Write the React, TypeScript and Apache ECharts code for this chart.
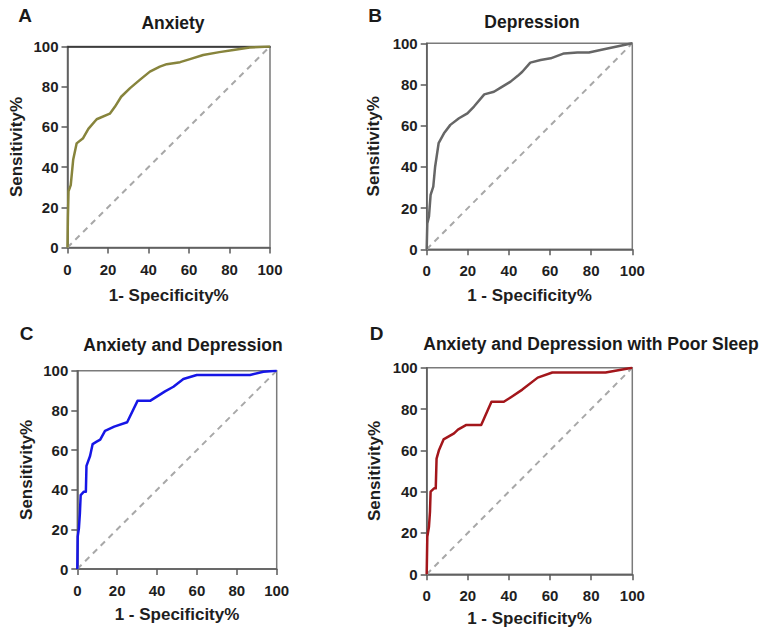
import React, { useEffect, useRef } from "react";
import * as echarts from "echarts";

// ROC curves: [1 - specificity %, sensitivity %]
const anxietyRoc: number[][] = [
  [0, 0], [0.2, 15], [0.5, 28], [1.6, 31], [2.8, 43.6], [4.5, 51.8], [7.7, 54.4],
  [10.3, 59], [14.4, 63.8], [20.9, 66.6], [23.4, 70], [26.5, 75], [30.9, 79.3],
  [35.7, 83.4], [40.7, 87.5], [45.6, 90], [49, 91.2], [55.6, 92.2], [60.5, 93.7],
  [67, 95.8], [75, 97.2], [81.9, 98.3], [90, 99.5], [100, 100],
];
const depressionRoc: number[][] = [
  [0, 0], [0.3, 12.6], [1.1, 15.9], [1.9, 26.4], [3.2, 30.4], [4.1, 40.1], [5.8, 51.5],
  [8.4, 56.3], [11.5, 60.4], [15.7, 63.6], [19.8, 66], [23, 69.3], [28, 75.2],
  [32.7, 76.5], [36, 78.5], [40.8, 81.4], [44.3, 84.2], [46.5, 86.2], [50.4, 90.6],
  [55.4, 91.9], [60.3, 92.7], [66.8, 95.1], [73.3, 95.5], [78.9, 95.5], [86.2, 97.1],
  [100, 100],
];
const comorbidRoc: number[][] = [
  [0, 0], [0.2, 16.3], [0.8, 20.5], [1.3, 28], [1.7, 37.3], [3.3, 39], [4.3, 39],
  [4.6, 52], [6.4, 57], [7.7, 63], [9.7, 64.2], [11.5, 65.2], [13.9, 69.7],
  [18.5, 71.8], [25, 74], [30.2, 84.8], [36.5, 84.8], [44, 89.6], [48.2, 91.9],
  [53.2, 95.8], [59.9, 97.8], [86.6, 97.8], [93.3, 99.5], [100, 100],
];
const poorSleepRoc: number[][] = [
  [0, 0], [0.3, 18.2], [1.1, 23], [1.6, 30.3], [1.9, 40], [3.6, 41.6], [4.4, 41.6],
  [4.8, 56], [6, 60.2], [8.2, 65.3], [13.3, 68.2], [15.2, 70], [19.3, 72.3],
  [26.5, 72.3], [31.5, 83.5], [37.5, 83.5], [40.8, 85.6], [46.5, 89.4], [54, 95.2],
  [61.1, 97.7], [87, 97.7], [100, 100],
];
const referenceLine: number[][] = [[0, 0], [100, 100]];

const panelTitles = [
  "Anxiety",
  "Depression",
  "Anxiety and Depression",
  "Anxiety and Depression with Poor Sleep",
];
const panelLetters = ["A", "B", "C", "D"];
const xAxisNames = ["1- Specificity%", "1 - Specificity%", "1 - Specificity%", "1 - Specificity%"];
const yAxisName = "Sensitivity%";
const curveColors = ["#87843c", "#666666", "#1616e6", "#a3161b"];

const FONT = "'Liberation Sans', Arial, Helvetica, sans-serif";

const grids = [
  { left: 67.5, top: 46.5, width: 202.5, height: 201, xGap: 37, yGap: 42.5 },
  { left: 426.7, top: 43.3, width: 205.6, height: 206, xGap: 36, yGap: 44.5 },
  { left: 77.3, top: 370.7, width: 199.4, height: 198.3, xGap: 34.5, yGap: 42 },
  { left: 426.7, top: 367.7, width: 205.6, height: 206.6, xGap: 34, yGap: 44 },
];
const titlePos = [
  [173, 23],
  [532, 22],
  [183, 345],
  [591, 344],
];
const letterPos = [
  [25, 15],
  [375, 15],
  [26.5, 333.5],
  [376.5, 333.5],
];

export default function App() {
  const ref = useRef<HTMLDivElement>(null);

  useEffect(() => {
    if (!ref.current) return;
    const chart = echarts.init(ref.current, undefined, { renderer: "svg" });
    const curves = [anxietyRoc, depressionRoc, comorbidRoc, poorSleepRoc];

    const axisLine = { show: true, lineStyle: { color: "#5a5a5a", width: 1.5 } };
    const axisTick = { show: true, inside: false, length: 6, lineStyle: { color: "#5a5a5a", width: 1.5 } };
    const axisLabel = { fontSize: 15, fontWeight: "bold" as const, color: "#1e1e1e", fontFamily: FONT };
    const nameStyle = { fontSize: 17, fontWeight: "bold" as const, color: "#1e1e1e", fontFamily: FONT };

    const xAxes: any[] = grids.map((g, i) => ({
      type: "value",
      gridIndex: i,
      min: 0,
      max: 100,
      interval: 20,
      axisLine,
      axisTick,
      axisLabel: { ...axisLabel, margin: 14 },
      splitLine: { show: false },
      name: xAxisNames[i],
      nameLocation: "middle",
      nameGap: g.xGap + 2,
      nameTextStyle: nameStyle,
    }));
    // darker top edge on panel A's frame
    xAxes.push({
      type: "value",
      gridIndex: 0,
      position: "top",
      min: 0,
      max: 100,
      axisLine: { show: true, lineStyle: { color: "#2a2a2a", width: 1.5 } },
      axisTick: { show: false },
      axisLabel: { show: false },
      splitLine: { show: false },
    });

    const yAxes = grids.map((g, i) => ({
      type: "value",
      gridIndex: i,
      min: 0,
      max: 100,
      interval: 20,
      axisLine,
      axisTick,
      axisLabel: { ...axisLabel, margin: 9 },
      splitLine: { show: false },
      name: yAxisName,
      nameLocation: "middle",
      nameRotate: 90,
      nameGap: g.yGap,
      nameTextStyle: nameStyle,
    }));

    const series: any[] = [];
    curves.forEach((data, i) => {
      series.push({
        type: "line",
        xAxisIndex: i,
        yAxisIndex: i,
        data: referenceLine,
        showSymbol: false,
        lineStyle: { color: "#a8a8a8", width: 2, type: [6, 5] },
        z: 2,
      });
      series.push({
        type: "line",
        xAxisIndex: i,
        yAxisIndex: i,
        data,
        showSymbol: false,
        lineStyle: { color: curveColors[i], width: 2.5, join: "round" },
        z: 3,
      });
    });

    const graphic: any[] = [];
    panelTitles.forEach((t, i) => {
      graphic.push({
        type: "text",
        x: titlePos[i][0],
        y: titlePos[i][1],
        style: {
          text: t,
          fill: "#1a1a1a",
          font: `bold 17.5px ${FONT}`,
          align: "center",
          verticalAlign: "middle",
        },
      });
      graphic.push({
        type: "text",
        x: letterPos[i][0],
        y: letterPos[i][1],
        style: {
          text: panelLetters[i],
          fill: "#1a1a1a",
          font: `bold 19px ${FONT}`,
          align: "center",
          verticalAlign: "middle",
        },
      });
    });

    chart.setOption({
      animation: false,
      backgroundColor: "#ffffff",
      grid: grids.map((g) => ({
        left: g.left,
        top: g.top,
        width: g.width,
        height: g.height,
        show: true,
        borderColor: "#7a7a7a",
        borderWidth: 1.5,
        backgroundColor: "transparent",
        containLabel: false,
      })),
      xAxis: xAxes,
      yAxis: yAxes,
      series,
      graphic,
    });

    return () => chart.dispose();
  }, []);

  return (
    <div
      ref={ref}
      style={{ position: "absolute", left: 0, top: 0, width: 767, height: 636, background: "#fff" }}
    />
  );
}
